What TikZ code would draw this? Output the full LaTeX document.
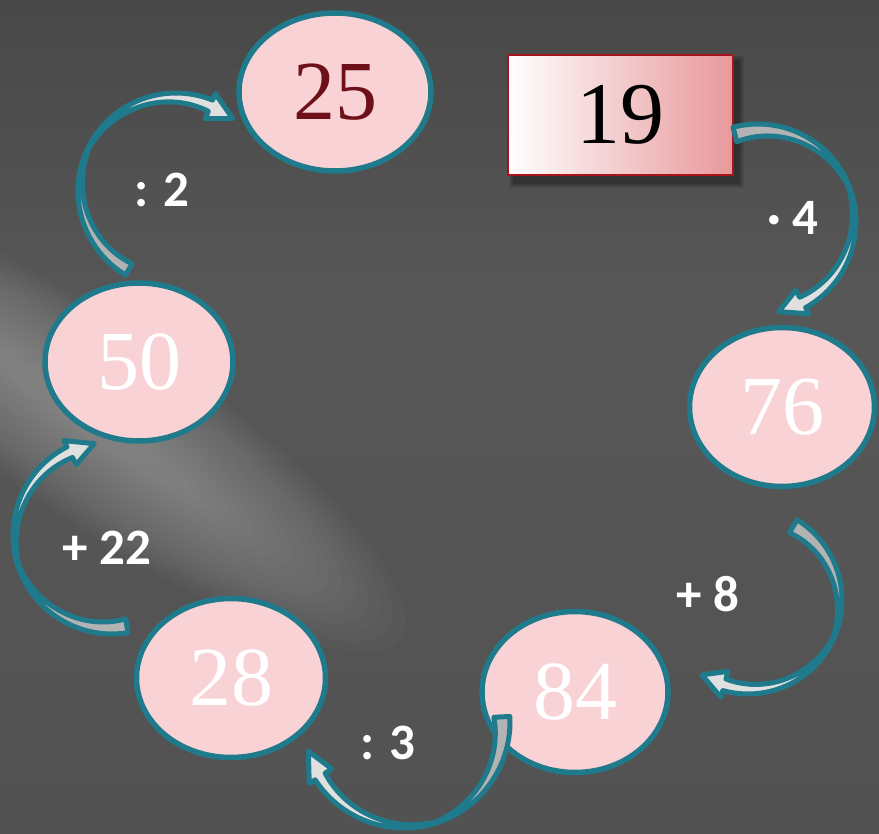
\documentclass[tikz,border=0pt]{standalone}
\usepackage{fontspec}
\setmainfont{Liberation Serif}
\newfontfamily\labfont{Carlito}
\usetikzlibrary{shapes.geometric}
\definecolor{bgtop}{HTML}{484848}
\definecolor{bgmid}{HTML}{575757}
\definecolor{bgbot}{HTML}{525252}
\definecolor{tealc}{HTML}{1F7A8C}
\definecolor{pinkfill}{HTML}{F9D2D5}
\definecolor{tailg}{HTML}{B3B3B3}
\definecolor{headg}{HTML}{E0E0E0}
\definecolor{darkred}{HTML}{6D1017}
\definecolor{boxborder}{HTML}{A8131C}
\definecolor{boxpink}{HTML}{E8989B}
\tikzset{
  numnode/.style={ellipse, draw=tealc, line width=5.5pt, fill=pinkfill, inner sep=0pt,
    font=\fontsize{84}{90}\selectfont, text=white},
  oplabel/.style={text=white, font=\labfont\bfseries\fontsize{51}{58}\selectfont},
  arrowline/.style={draw=tealc, line width=5pt, line join=round},
}
% #1 cx, #2 cy, #3 R, #4 tail angle, #5 tip angle, #6 tail width, #7 head band width
\newcommand{\CArrow}[7]{%
  \pgfmathsetmacro{\Ahb}{(#5)+16}%
  \pgfmathsetmacro{\Amm}{((#4)+\Ahb)/2}%
  \fill[tailg] plot[domain=0:1,samples=25] ({#1+#3*cos((#4)+(\Amm-(#4))*\x)},{#2-#3*sin((#4)+(\Amm-(#4))*\x)})
    -- plot[domain=0:1,samples=25] ({#1+(#3-1-(#6-1)*\x)*cos(\Amm+((#4)-\Amm)*\x)},{#2-(#3-1-(#6-1)*\x)*sin(\Amm+((#4)-\Amm)*\x)}) -- cycle;
  \fill[headg] plot[domain=0:1,samples=25] ({#1+#3*cos(\Amm+(\Ahb-\Amm)*\x)},{#2-#3*sin(\Amm+(\Ahb-\Amm)*\x)})
    -- ({#1+(#3+7)*cos(\Ahb)},{#2-(#3+7)*sin(\Ahb)})
    -- ({#1+(#3-#7/2)*cos(#5)},{#2-(#3-#7/2)*sin(#5)})
    -- ({#1+(#3-#7-8)*cos(\Ahb)},{#2-(#3-#7-8)*sin(\Ahb)})
    -- plot[domain=0:1,samples=25] ({#1+(#3-#7+(#7-1)*\x)*cos(\Ahb+(\Amm-\Ahb)*\x)},{#2-(#3-#7+(#7-1)*\x)*sin(\Ahb+(\Amm-\Ahb)*\x)}) -- cycle;
  \path[arrowline] plot[domain=0:1,samples=50] ({#1+#3*cos((#4)+(\Ahb-(#4))*\x)},{#2-#3*sin((#4)+(\Ahb-(#4))*\x)})
    -- ({#1+(#3+7)*cos(\Ahb)},{#2-(#3+7)*sin(\Ahb)})
    -- ({#1+(#3-#7/2)*cos(#5)},{#2-(#3-#7/2)*sin(#5)})
    -- ({#1+(#3-#7-8)*cos(\Ahb)},{#2-(#3-#7-8)*sin(\Ahb)})
    -- plot[domain=0:1,samples=25] ({#1+(#3-#7+(#7-1)*\x)*cos(\Ahb+(\Amm-\Ahb)*\x)},{#2-(#3-#7+(#7-1)*\x)*sin(\Ahb+(\Amm-\Ahb)*\x)})
    -- plot[domain=0:1,samples=25] ({#1+(#3-1-(#6-1)*\x)*cos(\Amm+((#4)-\Amm)*\x)},{#2-(#3-1-(#6-1)*\x)*sin(\Amm+((#4)-\Amm)*\x)}) -- cycle;
}
\begin{document}
\begin{tikzpicture}[x=1pt,y=-1pt]
  \useasboundingbox (0,0) rectangle (879,834);
  % background
  \shade[top color=bgtop, bottom color=bgmid] (0,0) rectangle (879,300);
  \shade[top color=bgmid, bottom color=bgbot] (0,300) rectangle (879,834);
  \begin{scope}
    \clip (0,0) rectangle (879,834);
    \foreach \i in {0,...,17}{
      \fill[white, opacity=0.018, rotate around={-35:(90,420)}]
        (90,420) ellipse [x radius={380pt*(1-0.04*\i)}, y radius={95pt*(1-0.05*\i)}];
    }
  \end{scope}
  % box shadow
  \foreach \i in {0,...,5}{
    \fill[black, opacity=0.07] (508+6-\i,55+6-\i) rectangle (733+6+\i,175+8+\i);
  }
  \node[draw=boxborder, line width=2.5pt, left color=white, right color=boxpink,
        minimum width=225pt, minimum height=120pt, inner sep=0pt,
        font=\fontsize{88}{94}\selectfont, text=black] (n19) at (620.5,115) {19};
  % ellipses
  \node[numnode, minimum width=192pt, minimum height=158pt, text=darkred] (n25) at (335,92) {25};
  \node[numnode, minimum width=188pt, minimum height=158pt] (n50) at (139,362) {50};
  \node[numnode, minimum width=185pt, minimum height=159pt] (n76) at (782,407) {76};
  \node[numnode, minimum width=186pt, minimum height=161pt] (n84) at (575,692) {84};
  \node[numnode, minimum width=189pt, minimum height=159pt] (n28) at (231,678) {28};
  % curved arrows
  \CArrow{758}{222}{98}{104.8}{-77}{15}{12}
  \CArrow{748}{600}{94}{58.5}{-121.6}{15}{12}
  \CArrow{404}{722}{106}{3}{-163}{16}{12}
  \CArrow{112}{535}{99}{-80.7}{-259}{14}{12}
  \CArrow{176}{191}{98}{-121}{-308}{13}{12}
  % labels
  \node[oplabel] (l1) at (793,218) {· 4};
  \node[oplabel] (l2) at (708,594) {+ 8};
  \node[oplabel] (l3) at (388,743) {: 3};
  \node[oplabel] (l4) at (107,548) {+ 22};
  \node[oplabel] (l5) at (162,190) {: 2};
\end{tikzpicture}
\end{document}
